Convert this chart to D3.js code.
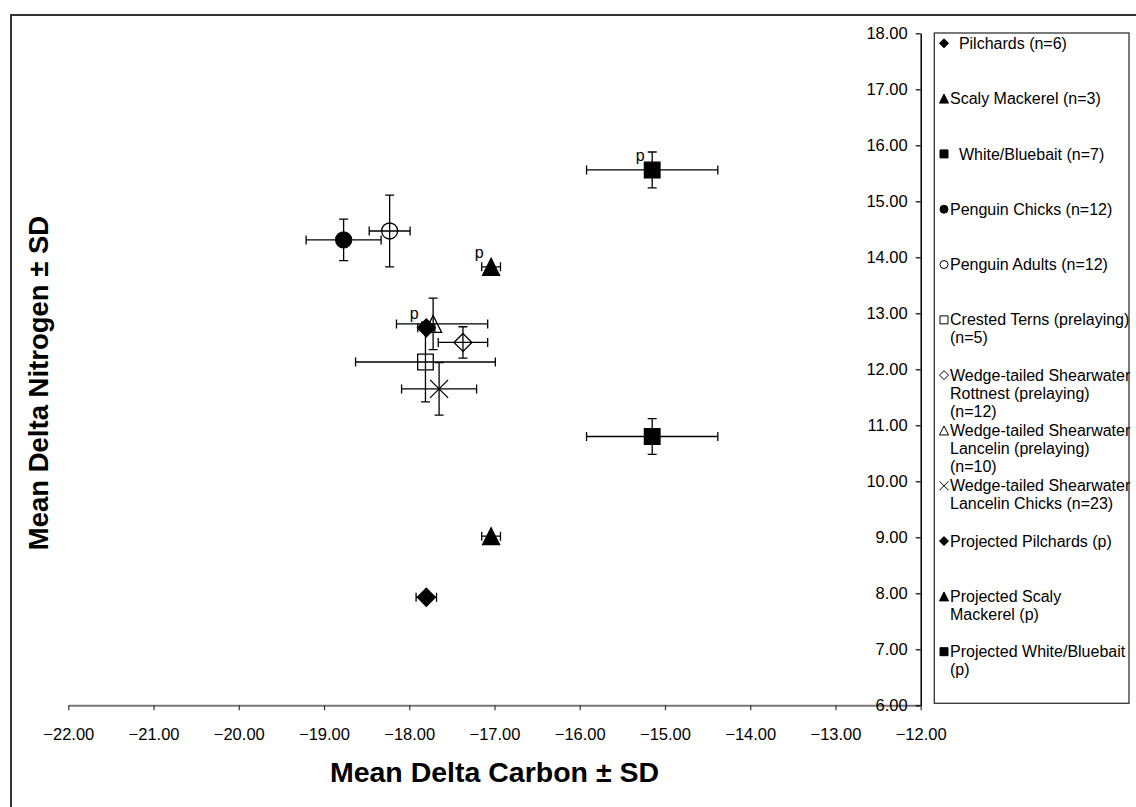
<!DOCTYPE html>
<html>
<head>
<meta charset="utf-8">
<script src="https://cdn.jsdelivr.net/npm/d3@7"></script>
<style>
  body { margin: 0; background: #fff; }
  svg { display: block; font-family: "Liberation Sans", Arial, sans-serif; }
</style>
</head>
<body>
<div id="chart"></div>
<script>
// series, in legend order
var seriesNames = ["Pilchards (n=6)", "Scaly Mackerel (n=3)", "White/Bluebait (n=7)",
    "Penguin Chicks (n=12)", "Penguin Adults (n=12)", "Crested Terns (prelaying) (n=5)",
    "Wedge-tailed Shearwater Rottnest (prelaying) (n=12)", "Wedge-tailed Shearwater Lancelin (prelaying) (n=10)",
    "Wedge-tailed Shearwater Lancelin Chicks (n=23)", "Projected Pilchards (p)",
    "Projected Scaly Mackerel (p)", "Projected White/Bluebait (p)"];
var legendLines = [["\u00a0\u00a0Pilchards (n=6)"], ["Scaly Mackerel (n=3)"], ["\u00a0\u00a0White/Bluebait (n=7)"],
    ["Penguin Chicks (n=12)"], ["Penguin Adults (n=12)"], ["Crested Terns (prelaying)", "(n=5)"],
    ["Wedge-tailed Shearwater", "Rottnest (prelaying)", "(n=12)"],
    ["Wedge-tailed Shearwater", "Lancelin (prelaying)", "(n=10)"],
    ["Wedge-tailed Shearwater", "Lancelin Chicks (n=23)"], ["Projected Pilchards (p)"],
    ["Projected Scaly", "Mackerel (p)"], ["Projected White/Bluebait", "(p)"]];
var markerShapes = ["diamond", "triangle", "square", "circle", "circle", "square",
    "diamond", "triangle", "cross", "diamond", "triangle", "square"];
var markerFilled = [true, true, true, true, false, false, false, false, false, true, true, true];
var isProjected = [false, false, false, false, false, false, false, false, false, true, true, true];

var carbonMean = [-17.80, -17.04, -15.15, -18.77, -18.23, -17.81, -17.37, -17.72, -17.65, -17.80, -17.04, -15.15];
var nitrogenMean = [7.93, 9.02, 10.80, 14.31, 14.47, 12.13, 12.48, 12.81, 11.65, 12.74, 13.83, 15.56];
var carbonErrMinus = [0.12, 0.11, 0.77, 0.44, 0.24, 0.82, 0.29, 0.43, 0.44, 0.10, 0.11, 0.77];
var carbonErrPlus = [0.12, 0.11, 0.77, 0.44, 0.24, 0.82, 0.29, 0.64, 0.44, 0.10, 0.11, 0.77];
var nitrogenSD = [0, 0, 0.32, 0.37, 0.64, 0.71, 0.28, 0.46, 0.47, 0, 0, 0.32];

var xTicks = [-22, -21, -20, -19, -18, -17, -16, -15, -14, -13, -12];
var yTicks = [6, 7, 8, 9, 10, 11, 12, 13, 14, 15, 16, 17, 18];

var W = 1136, H = 807;
var margin = {top: 33.3, left: 68.3, right: 215.3, bottom: 101.7};
var width = W - margin.left - margin.right,
    height = H - margin.top - margin.bottom;

var xScale = d3.scaleLinear().domain([-22, -12]).range([0, width]);
var yScale = d3.scaleLinear().domain([6, 18]).range([height, 0]);

var svg = d3.select("#chart").append("svg")
    .attr("width", W)
    .attr("height", H);

// outer chart frame
svg.append("rect")
    .attr("x", 11).attr("y", 15)
    .attr("width", 1140).attr("height", 810)
    .attr("fill", "none")
    .attr("stroke", "#333")
    .attr("stroke-width", 2);

var g = svg.append("g")
    .attr("transform", "translate(" + margin.left + "," + margin.top + ")");

function markerPath(shape, s) {
    // s = half size
    if (shape == "diamond") return "M0," + (-s) + "L" + s + ",0L0," + s + "L" + (-s) + ",0Z";
    if (shape == "square") return "M" + (-s) + "," + (-s) + "H" + s + "V" + s + "H" + (-s) + "Z";
    if (shape == "triangle") return "M0," + (-s) + "L" + s + "," + s + "L" + (-s) + "," + s + "Z";
    if (shape == "cross") return "M" + (-s) + "," + (-s) + "L" + s + "," + s + "M" + s + "," + (-s) + "L" + (-s) + "," + s;
    return "M" + s + ",0A" + s + "," + s + " 0 1,1 " + (-s) + ",0A" + s + "," + s + " 0 1,1 " + s + ",0Z";
}
var plotSize = {diamond: 9, square: 7.8, triangle: 8.5, cross: 9, circle: 8};
var legendSize = {diamond: 4.5, square: 4, triangle: 4.5, cross: 4.5, circle: 4};

// axes
var xAxis = d3.axisBottom(xScale).tickValues(xTicks).tickFormat(d3.format(".2f"))
    .tickSizeInner(5).tickSizeOuter(0).tickPadding(8);
var yAxis = d3.axisLeft(yScale).tickValues(yTicks).tickFormat(d3.format(".2f"))
    .tickSizeInner(5).tickSizeOuter(0).tickPadding(8);

var gx = g.append("g")
    .attr("class", "axis axis--x")
    .attr("transform", "translate(0," + height + ")")
    .call(xAxis);
gx.select(".domain").attr("stroke", "#777").attr("stroke-width", 2);
gx.selectAll(".tick line").attr("stroke", "#333").attr("stroke-width", 1.2);
gx.selectAll(".tick text").attr("fill", "#000").style("font-size", "16.5px")
    .attr("dy", "1.3em");

var gy = g.append("g")
    .attr("class", "axis axis--y")
    .attr("transform", "translate(" + width + ",0)")
    .call(yAxis);
gy.select(".domain").attr("stroke", "#000").attr("stroke-width", 1.5);
gy.selectAll(".tick line").attr("stroke", "#000").attr("stroke-width", 1.2);
gy.selectAll(".tick text").attr("fill", "#000").style("font-size", "16.5px");

// axis titles
svg.append("text")
    .attr("x", margin.left + width / 2)
    .attr("y", 782)
    .attr("text-anchor", "middle")
    .style("font-size", "28.5px")
    .style("font-weight", "bold")
    .text("Mean Delta Carbon \u00b1 SD");
svg.append("text")
    .attr("transform", "translate(48," + 383 + ") rotate(-90)")
    .attr("text-anchor", "middle")
    .style("font-size", "27.5px")
    .style("font-weight", "bold")
    .text("Mean Delta Nitrogen \u00b1 SD");

var series = seriesNames.map(function(name, i) {
    return {
        name: name, shape: markerShapes[i], filled: markerFilled[i], projected: isProjected[i],
        x: carbonMean[i], y: nitrogenMean[i],
        xLo: carbonMean[i] - carbonErrMinus[i], xHi: carbonMean[i] + carbonErrPlus[i],
        yLo: nitrogenMean[i] - nitrogenSD[i], yHi: nitrogenMean[i] + nitrogenSD[i]
    };
});

// error bars
var cap = 4.5;
var bars = g.selectAll(".errbar")
    .data(series)
    .enter().append("path")
    .attr("class", "errbar")
    .attr("fill", "none")
    .attr("stroke", "#000")
    .attr("stroke-width", 1.3)
    .attr("d", function(d) {
        var x0 = xScale(d.xLo), x1 = xScale(d.xHi), cx = xScale(d.x);
        var y0 = yScale(d.yLo), y1 = yScale(d.yHi), cy = yScale(d.y);
        var p = "M" + x0 + "," + cy + "H" + x1 +
            "M" + x0 + "," + (cy - cap) + "V" + (cy + cap) +
            "M" + x1 + "," + (cy - cap) + "V" + (cy + cap);
        if (y0 != y1) {
            p += "M" + cx + "," + y0 + "V" + y1 +
                "M" + (cx - cap) + "," + y0 + "H" + (cx + cap) +
                "M" + (cx - cap) + "," + y1 + "H" + (cx + cap);
        }
        return p;
    });

// markers
g.selectAll(".marker")
    .data(series)
    .enter().append("path")
    .attr("class", "marker")
    .attr("transform", function(d) { return "translate(" + xScale(d.x) + "," + yScale(d.y) + ")"; })
    .attr("d", function(d) { return markerPath(d.shape, plotSize[d.shape]); })
    .attr("fill", function(d) { return d.filled ? "#000" : "none"; })
    .attr("stroke", "#000")
    .attr("stroke-width", 1.3);

// "p" labels on projected points
g.selectAll(".plabel")
    .data(series.filter(function(d) { return d.projected; }))
    .enter().append("text")
    .attr("class", "plabel")
    .attr("x", function(d) { return xScale(d.x) - 12; })
    .attr("y", function(d) { return yScale(d.y) - 9; })
    .attr("text-anchor", "middle")
    .style("font-size", "16px")
    .text("p");

// legend
var legendBox = {x: 934.3, y: 33, w: 194.7, h: 670.3};
svg.append("rect")
    .attr("x", legendBox.x).attr("y", legendBox.y)
    .attr("width", legendBox.w).attr("height", legendBox.h)
    .attr("fill", "#fff")
    .attr("stroke", "#333")
    .attr("stroke-width", 1.3);

var legendY = d3.scaleLinear().domain([0, series.length - 1]).range([43.3, 651.7]);
var lineH = 18;
var items = svg.selectAll(".legend-item")
    .data(series)
    .enter().append("g")
    .attr("class", "legend-item")
    .attr("transform", function(d, i) { return "translate(0," + legendY(i) + ")"; });
items.append("path")
    .attr("transform", "translate(944,0)")
    .attr("d", function(d) { return markerPath(d.shape, legendSize[d.shape]); })
    .attr("fill", function(d) { return d.filled ? "#000" : "none"; })
    .attr("stroke", "#000")
    .attr("stroke-width", 1);
items.each(function(d, i) {
    var t = d3.select(this).append("text")
        .style("font-size", "16px")
        .attr("fill", "#000");
    legendLines[i].forEach(function(line, k) {
        t.append("tspan")
            .attr("x", 950)
            .attr("y", k * lineH)
            .attr("dy", "0.35em")
            .text(line);
    });
});
</script>
</body>
</html>
